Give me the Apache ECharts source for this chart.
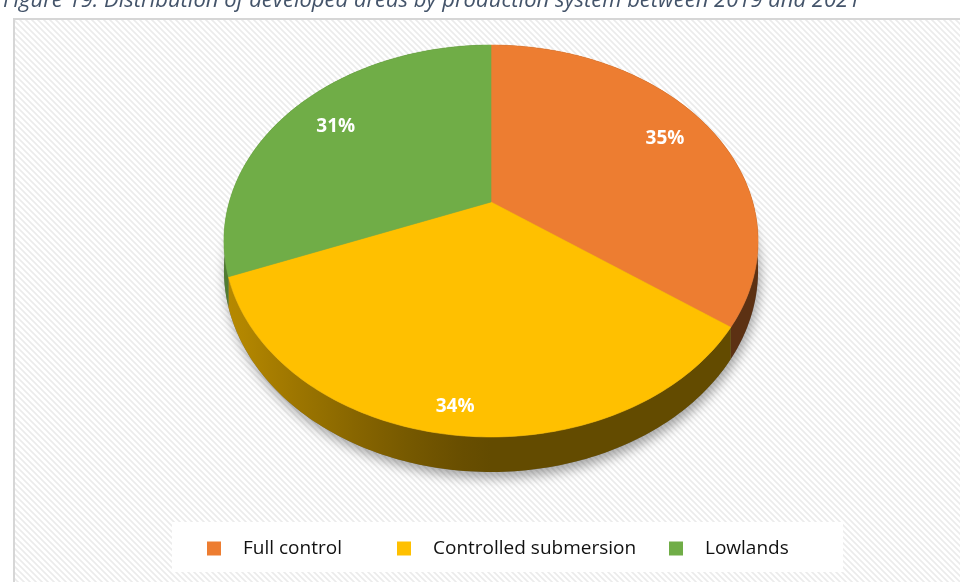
<!DOCTYPE html>
<html>
<head>
<meta charset="utf-8">
<script src="https://cdn.jsdelivr.net/npm/echarts@6/dist/echarts.min.js"></script>
<style>
  html, body { margin: 0; padding: 0; background: #ffffff; }
  #chart { width: 960px; height: 582px; }
</style>
</head>
<body>
<div id="chart"></div>
<script>
// Production systems and their share of developed areas (%)
const categories = ['Full control', 'Controlled submersion', 'Lowlands'];
const shares = [35, 34, 31];
const sliceColors = ['#ED7D31', '#FFC000', '#70AD47'];
const titleText = 'Figure 19: Distribution of developed areas by production system between 2019 and 2021';

// Tilted-disc geometry (pixels / unit factors)
const CX = 491, CY = 202;          // apex of the slices
const RX = 261.7, RY = 188.2;      // horizontal / vertical radius scale
const PERSP = 0.199;               // perspective foreshortening
const DEPTH = 0.149;               // disc thickness in vertical units
const LABEL_R = [0.8, 0.9, 0.78];  // label distance from apex per slice
const FONT = '"Open Sans", "Noto Sans", sans-serif';

const total = shares.reduce((a, b) => a + b, 0);
const startAngles = [];
let acc = 0;
shares.forEach(v => { startAngles.push(acc / total * 360); acc += v; });

// Project an angle (degrees clockwise from 12 o'clock) on the unit disc
function project(deg, r, depth) {
  const a = deg * Math.PI / 180;
  const u = Math.sin(a) * r, v = -Math.cos(a) * r;
  const w = 1 - PERSP * v;
  return [u / w, (v + depth) / w];
}

function shade(hex, f) {
  const n = parseInt(hex.slice(1), 16);
  const r = Math.round(((n >> 16) & 255) * f);
  const g = Math.round(((n >> 8) & 255) * f);
  const b = Math.round((n & 255) * f);
  return 'rgb(' + r + ',' + g + ',' + b + ')';
}

function arcPoints(api, a0, a1, depth) {
  const pts = [];
  const steps = Math.max(2, Math.ceil(a1 - a0));
  for (let s = 0; s <= steps; s++) {
    const deg = a0 + (a1 - a0) * s / steps;
    pts.push(api.coord(project(deg, 1, depth)));
  }
  return pts;
}

// Side wall of each slice, plus the drop shadow under the disc
function renderSide(params, api) {
  const i = params.dataIndex;
  const a0 = startAngles[i];
  const a1 = a0 + api.value(0) / total * 360;
  const children = [];
  if (i === 0) {
    const ring = arcPoints(api, 0, 360, DEPTH);
    children.push({
      type: 'polygon', z2: 0,
      shape: { points: ring },
      style: {
        fill: 'rgba(120,120,120,1)',
        shadowBlur: 12, shadowOffsetX: 2, shadowOffsetY: 6,
        shadowColor: 'rgba(0,0,0,0.35)'
      }
    });
  }
  const top = arcPoints(api, a0, a1, 0);
  const bottom = arcPoints(api, a0, a1, DEPTH).reverse();
  const xl = api.coord([-1.05, 0])[0], xr = api.coord([1.05, 0])[0];
  const stops = [];
  for (let s = 0; s <= 20; s++) {
    const t = s / 20;
    const u = -1.05 + 2.1 * t;
    const f = 0.39 + 0.33 * Math.pow(Math.max(0, Math.min(1, -u)), 1.3);
    stops.push({ offset: t, color: shade(sliceColors[i], f) });
  }
  children.push({
    type: 'polygon', z2: 1,
    shape: { points: top.concat(bottom) },
    style: {
      fill: new echarts.graphic.LinearGradient(xl, 0, xr, 0, stops, true)
    }
  });
  return { type: 'group', children: children };
}

// Top face of one slice with its percentage label
function makeTopRenderer(i) {
  return function (params, api) {
    const a0 = startAngles[i];
    const span = api.value(0) / total * 360;
    const pts = [api.coord([0, 0])].concat(arcPoints(api, a0, a0 + span, 0));
    const mid = a0 + span / 2;
    const lp = api.coord(project(mid, LABEL_R[i], 0));
    return {
      type: 'group',
      children: [
        {
          type: 'polygon', z2: 5,
          shape: { points: pts },
          style: { fill: sliceColors[i], stroke: sliceColors[i], lineWidth: 0.6 }
        },
        {
          type: 'text', z2: 6,
          x: lp[0], y: lp[1],
          style: {
            text: Math.round(api.value(0) / total * 100) + '%',
            fill: '#ffffff',
            font: 'bold 19px ' + FONT,
            align: 'center', verticalAlign: 'middle'
          }
        }
      ]
    };
  };
}

// Diagonal hatch used for the plot background
function hatchPattern() {
  const c = document.createElement('canvas');
  c.width = 6; c.height = 6;
  const g = c.getContext('2d');
  g.fillStyle = '#ffffff';
  g.fillRect(0, 0, 6, 6);
  g.strokeStyle = '#ebebeb';
  g.lineWidth = 1.6;
  g.beginPath();
  g.moveTo(-1, -1); g.lineTo(7, 7);
  g.moveTo(-4, 2); g.lineTo(2, 8);
  g.moveTo(2, -4); g.lineTo(8, 2);
  g.stroke();
  return c;
}

const chart = echarts.init(document.getElementById('chart'), null, { renderer: 'canvas' });

const legendLeft = [207, 397, 669];

const option = {
  animation: false,
  backgroundColor: '#ffffff',
  graphic: [
    {
      type: 'rect', z: -10, silent: true,
      shape: { x: 14, y: 19, width: 980, height: 600 },
      style: { fill: { image: hatchPattern(), repeat: 'repeat' }, stroke: '#d6d6d6', lineWidth: 2 }
    },
    {
      type: 'rect', z: -5, silent: true,
      shape: { x: 172, y: 522, width: 671, height: 50 },
      style: { fill: '#ffffff' }
    },
    {
      type: 'text', z: 10, silent: true,
      x: 3, y: 12,
      style: {
        text: titleText,
        font: 'italic 22px ' + FONT,
        fill: '#44546A',
        align: 'left', verticalAlign: 'bottom'
      }
    }
  ],
  legend: categories.map((name, i) => ({
    data: [name],
    left: legendLeft[i],
    top: 539,
    padding: 0,
    icon: 'rect',
    itemWidth: 14,
    itemHeight: 14,
    selectedMode: false,
    textStyle: { fontFamily: FONT, fontSize: 19, color: '#111111', padding: [0, 0, 0, 17] }
  })),
  grid: { left: CX - RX, top: CY - RY, width: 2 * RX, height: 2 * RY },
  xAxis: { type: 'value', min: -1, max: 1, show: false },
  yAxis: { type: 'value', min: -1, max: 1, inverse: true, show: false },
  series: [
    {
      type: 'custom',
      name: 'walls',
      silent: true,
      clip: false,
      renderItem: renderSide,
      data: shares.map(v => [v])
    }
  ].concat(categories.map((name, i) => ({
    type: 'custom',
    name: name,
    silent: true,
    clip: false,
    itemStyle: { color: sliceColors[i] },
    renderItem: makeTopRenderer(i),
    data: [[shares[i]]]
  })))
};

chart.setOption(option);
</script>
</body>
</html>
